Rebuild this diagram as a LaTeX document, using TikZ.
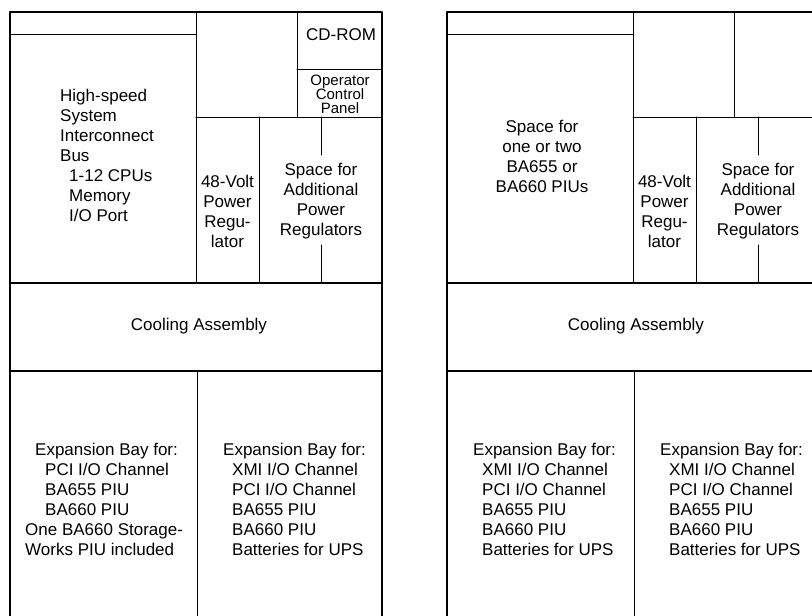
\documentclass[tikz,border=0pt]{standalone}
\usepackage{fontspec}
\setmainfont{Liberation Sans}

\tikzset{
  outer/.style={black, line width=1.4pt},
  inner/.style={black, line width=1pt},
  lbl/.style={inner sep=0pt, align=center, font=\fontsize{17}{20}\selectfont},
  lblleft/.style={inner sep=0pt, align=left, anchor=west, font=\fontsize{17}{20}\selectfont},
  lblsmall/.style={inner sep=0pt, align=center, font=\fontsize{15}{14}\selectfont},
}

\begin{document}
\begin{tikzpicture}[x=1pt, y=-1pt, line cap=round, line join=round]

\clip (0,0) rectangle (812,616);

% the two cabinets share one frame
\foreach \o in {0,437} {
    \draw[outer] (10+\o,630) -- (10+\o,12) -- (382+\o,12) -- (382+\o,630);
    \draw[inner]
        (10+\o,34)--(196+\o,34)
        (196+\o,12)--(196+\o,283)
        (297+\o,12)--(297+\o,117)
        (196+\o,117)--(382+\o,117)
        (259+\o,117)--(259+\o,283)
        (321+\o,117)--(321+\o,155)
        (321+\o,245)--(321+\o,283)
        (197+\o,371)--(197+\o,630);
    \draw[outer]
        (10+\o,283)--(382+\o,283)
        (10+\o,371)--(382+\o,371);
}

% CD-ROM shelf, left cabinet only
\draw[inner] (297,69)--(382,69);

% left cabinet
\node[lbl] (cdrom) at (341,35) {CD-ROM};
\node[lblsmall] (ocp) at (340,94) {Operator\\Control\\Panel};
\node[lblleft] (sib) at (60,155) {High-speed\\System\\Interconnect\\Bus\\
    \hspace*{9pt}1-12 CPUs\\\hspace*{9pt}Memory\\\hspace*{9pt}I/O Port};
\node[lbl] (volt) at (227.5,211) {48-Volt\\Power\\Regu-\\lator};
\node[lbl] (addreg) at (321,201) {Space for\\Additional\\Power\\Regulators};
\node[lbl] (cool) at (199,326) {Cooling Assembly};
\node[lblleft] (bayA) at (25,499) {\hspace*{10pt}Expansion Bay for:\\
    \hspace*{20pt}PCI I/O Channel\\\hspace*{20pt}BA655 PIU\\\hspace*{20pt}BA660 PIU\\
    One BA660 Storage-\\Works PIU included};
\node[lblleft] (bayB) at (223,499) {Expansion Bay for:\\
    \hspace*{9pt}XMI I/O Channel\\\hspace*{9pt}PCI I/O Channel\\\hspace*{9pt}BA655 PIU\\
    \hspace*{9pt}BA660 PIU\\\hspace*{9pt}Batteries for UPS};

% right cabinet
\node[lbl] (pius) at (542,156) {Space for\\one or two\\BA655 or\\BA660 PIUs};
\node[lbl] (voltR) at (664.5,211) {48-Volt\\Power\\Regu-\\lator};
\node[lbl] (addregR) at (758,201) {Space for\\Additional\\Power\\Regulators};
\node[lbl] (coolR) at (636,326) {Cooling Assembly};
\node[lblleft] (bayC) at (473,499) {Expansion Bay for:\\
    \hspace*{9pt}XMI I/O Channel\\\hspace*{9pt}PCI I/O Channel\\\hspace*{9pt}BA655 PIU\\
    \hspace*{9pt}BA660 PIU\\\hspace*{9pt}Batteries for UPS};
\node[lblleft] (bayD) at (660,499) {Expansion Bay for:\\
    \hspace*{9pt}XMI I/O Channel\\\hspace*{9pt}PCI I/O Channel\\\hspace*{9pt}BA655 PIU\\
    \hspace*{9pt}BA660 PIU\\\hspace*{9pt}Batteries for UPS};

\end{tikzpicture}
\end{document}
